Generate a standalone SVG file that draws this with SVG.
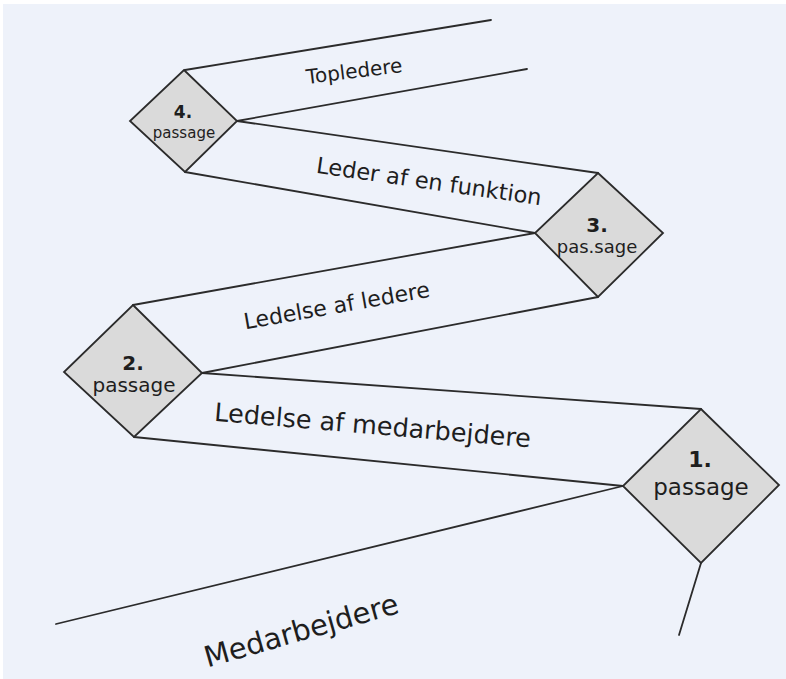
<svg xmlns="http://www.w3.org/2000/svg" width="786" height="679" viewBox="0 0 786 679">
<style>
.ln{stroke:#2b2b2b;stroke-width:1.8;fill:none;stroke-linecap:round}
.dm{fill:#dadada;stroke:#2b2b2b;stroke-width:1.8;stroke-linejoin:miter}
text{font-family:"DejaVu Sans",Verdana,sans-serif;fill:#1e1e1e}
.num{font-weight:bold;text-anchor:middle}
.lbl{text-anchor:middle}
</style>
<rect x="0" y="0" width="786" height="679" fill="#ffffff"/>
<rect x="3" y="4" width="783" height="675" fill="#eef2fa"/>
<g id="connectors">
<line class="ln" x1="185" y1="70" x2="491" y2="20"/>
<line class="ln" x1="237" y1="121" x2="527" y2="69"/>
<line class="ln" x1="237" y1="121" x2="598" y2="173"/>
<line class="ln" x1="185" y1="172" x2="535" y2="233"/>
<line class="ln" x1="535" y1="233" x2="133" y2="305"/>
<line class="ln" x1="598" y1="297" x2="202" y2="373"/>
<line class="ln" x1="202" y1="373" x2="701" y2="409"/>
<line class="ln" x1="134" y1="437" x2="623" y2="486"/>
<line class="ln" x1="623" y1="486" x2="56" y2="624"/>
<line class="ln" x1="701" y1="563" x2="679" y2="635"/>
</g>
<g id="band-labels">
<text class="lbl" font-size="20" x="355" y="78" transform="rotate(-7 355 78)">Topledere</text>
<text class="lbl" font-size="22.5" x="428" y="189" transform="rotate(8.2 428 189)">Leder af en funktion</text>
<text class="lbl" font-size="22" x="338" y="313" transform="rotate(-10 338 313)">Ledelse af ledere</text>
<text class="lbl" font-size="25.5" x="372" y="434" transform="rotate(4.8 372 434)">Ledelse af medarbejdere</text>
<text class="lbl" font-size="29" x="304" y="640" transform="rotate(-15.9 304 640)">Medarbejdere</text>
</g>
<g id="passage4">
<polygon class="dm" points="184,70 237,121 185,172 130,121"/>
<text class="num" font-size="17" x="183" y="118">4.</text>
<text class="lbl" font-size="15" x="184" y="138">passage</text>
</g>
<g id="passage3">
<polygon class="dm" points="598,173 663,233 598,297 535,233"/>
<text class="num" font-size="20" x="597" y="232">3.</text>
<text class="lbl" font-size="18" x="597" y="253">pas.sage</text>
</g>
<g id="passage2">
<polygon class="dm" points="133,305 202,373 134,437 64,372"/>
<text class="num" font-size="20" x="133" y="370">2.</text>
<text class="lbl" font-size="20" x="134" y="392">passage</text>
</g>
<g id="passage1">
<polygon class="dm" points="701,409 779,485 701,563 623,486"/>
<text class="num" font-size="22" x="700" y="467">1.</text>
<text class="lbl" font-size="23" x="701" y="495">passage</text>
</g>
</svg>
